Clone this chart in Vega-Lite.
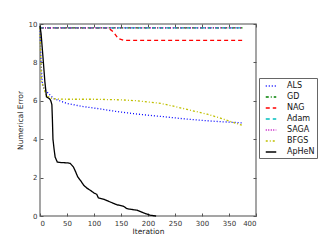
{
  "$schema": "https://vega.github.io/schema/vega-lite/v6.json",
  "width": 216,
  "height": 192,
  "autosize": "none",
  "padding": {"left": 40, "top": 24, "right": 64, "bottom": 24},
  "background": "white",
  "config": {
    "view": {"stroke": "#888888", "strokeWidth": 1.5},
    "font": "DejaVu Sans",
    "axis": {"grid": false, "domain": false, "tickColor": "#555555", "tickSize": -3, "labelFontSize": 7, "labelColor": "#333333", "titleFontSize": 7.5, "titleFontWeight": "normal", "titleColor": "#222222", "labelPadding": 6}
  },
  "data": {"values": [
    {"m":"ALS","i":0,"e":9.8},{"m":"ALS","i":2,"e":8.0},{"m":"ALS","i":4,"e":7.0},{"m":"ALS","i":6,"e":6.7},{"m":"ALS","i":15,"e":6.4},{"m":"ALS","i":25,"e":6.12},{"m":"ALS","i":50,"e":5.86},{"m":"ALS","i":80,"e":5.7},{"m":"ALS","i":111,"e":5.58},{"m":"ALS","i":140,"e":5.45},{"m":"ALS","i":173,"e":5.33},{"m":"ALS","i":200,"e":5.25},{"m":"ALS","i":223,"e":5.19},{"m":"ALS","i":260,"e":5.08},{"m":"ALS","i":291,"e":5.0},{"m":"ALS","i":330,"e":4.92},{"m":"ALS","i":375,"e":4.85},
    {"m":"GD","i":0,"e":9.8},{"m":"GD","i":375,"e":9.8},
    {"m":"NAG","i":0,"e":9.8},{"m":"NAG","i":124,"e":9.8},{"m":"NAG","i":130,"e":9.72},{"m":"NAG","i":136,"e":9.58},{"m":"NAG","i":145,"e":9.24},{"m":"NAG","i":155,"e":9.15},{"m":"NAG","i":375,"e":9.15},
    {"m":"Adam","i":0,"e":9.8},{"m":"Adam","i":375,"e":9.8},
    {"m":"SAGA","i":0,"e":9.8},{"m":"SAGA","i":375,"e":9.8},
    {"m":"BFGS","i":0,"e":9.8},{"m":"BFGS","i":1,"e":8.5},{"m":"BFGS","i":3,"e":7.0},{"m":"BFGS","i":12,"e":6.25},{"m":"BFGS","i":25,"e":6.1},{"m":"BFGS","i":50,"e":6.08},{"m":"BFGS","i":100,"e":6.08},{"m":"BFGS","i":150,"e":6.05},{"m":"BFGS","i":180,"e":6.0},{"m":"BFGS","i":223,"e":5.87},{"m":"BFGS","i":250,"e":5.7},{"m":"BFGS","i":280,"e":5.5},{"m":"BFGS","i":310,"e":5.3},{"m":"BFGS","i":334,"e":5.1},{"m":"BFGS","i":355,"e":4.9},{"m":"BFGS","i":375,"e":4.72},
    {"m":"ApHeN","i":0,"e":9.9},{"m":"ApHeN","i":2,"e":9.5},{"m":"ApHeN","i":4,"e":8.8},{"m":"ApHeN","i":6,"e":8.1},{"m":"ApHeN","i":9,"e":7.0},{"m":"ApHeN","i":12,"e":6.2},{"m":"ApHeN","i":18,"e":6.1},{"m":"ApHeN","i":20,"e":6.0},{"m":"ApHeN","i":22,"e":5.8},{"m":"ApHeN","i":23,"e":5.0},{"m":"ApHeN","i":24,"e":4.0},{"m":"ApHeN","i":26,"e":3.5},{"m":"ApHeN","i":28,"e":3.07},{"m":"ApHeN","i":32,"e":2.81},{"m":"ApHeN","i":40,"e":2.78},{"m":"ApHeN","i":50,"e":2.77},{"m":"ApHeN","i":56,"e":2.74},{"m":"ApHeN","i":62,"e":2.55},{"m":"ApHeN","i":66,"e":2.3},{"m":"ApHeN","i":70,"e":2.03},{"m":"ApHeN","i":75,"e":1.85},{"m":"ApHeN","i":81,"e":1.6},{"m":"ApHeN","i":87,"e":1.45},{"m":"ApHeN","i":93,"e":1.34},{"m":"ApHeN","i":100,"e":1.2},{"m":"ApHeN","i":105,"e":1.13},{"m":"ApHeN","i":108,"e":0.95},{"m":"ApHeN","i":120,"e":0.85},{"m":"ApHeN","i":130,"e":0.73},{"m":"ApHeN","i":142,"e":0.59},{"m":"ApHeN","i":155,"e":0.5},{"m":"ApHeN","i":161,"e":0.38},{"m":"ApHeN","i":170,"e":0.34},{"m":"ApHeN","i":180,"e":0.3},{"m":"ApHeN","i":192,"e":0.16},{"m":"ApHeN","i":204,"e":0.04},{"m":"ApHeN","i":215,"e":0.0}
  ]},
  "layer": [
    {
      "mark": {"type": "line", "strokeWidth": 1.3},
      "encoding": {
        "x": {"field": "i", "type": "quantitative", "title": "Iteration", "scale": {"domain": [0, 400], "nice": false}, "axis": {"orient": "bottom", "values": [0,50,100,150,200,250,300,350,400], "titlePadding": 1}},
        "y": {"field": "e", "type": "quantitative", "title": "Numerical Error", "scale": {"domain": [0, 10], "nice": false}, "axis": {"orient": "left", "values": [0,2,4,6,8,10], "titlePadding": 4}},
        "color": {"field": "m", "type": "nominal", "title": null,
          "scale": {"domain": ["ALS","GD","NAG","Adam","SAGA","BFGS","ApHeN"], "range": ["#0000ff","#008000","#ff0000","#00bfbf","#bf00bf","#bfbf00","#000000"]},
          "legend": {"orient": "none", "legendX": 219, "legendY": 54, "symbolType": "stroke", "symbolSize": 110, "symbolStrokeWidth": 1.5, "symbolOffset": 4, "labelFontSize": 8, "labelColor": "#111111", "strokeColor": "#666666", "padding": 2, "rowPadding": 1, "labelOffset": 10, "fillColor": "white"}},
        "strokeDash": {"field": "m", "type": "nominal", "title": null,
          "scale": {"domain": ["ALS","GD","NAG","Adam","SAGA","BFGS","ApHeN"], "range": [[1,2],[3,2,1,2],[4,3],[4,3],[1,1.5],[2,2,1,2],[1,0]]}},
        "order": {"field": "i", "type": "quantitative"}
      }
    },
    {
      "mark": {"type": "line", "opacity": 0},
      "encoding": {
        "x": {"field": "i", "type": "quantitative", "scale": {"domain": [0, 400], "nice": false}, "axis": {"orient": "top", "values": [0,50,100,150,200,250,300,350,400], "labels": false, "title": null}},
        "y": {"field": "e", "type": "quantitative", "scale": {"domain": [0, 10], "nice": false}, "axis": {"orient": "right", "values": [0,2,4,6,8,10], "labels": false, "title": null}},
        "detail": {"field": "m"}
      }
    }
  ],
  "resolve": {"axis": {"x": "independent", "y": "independent"}}
}
